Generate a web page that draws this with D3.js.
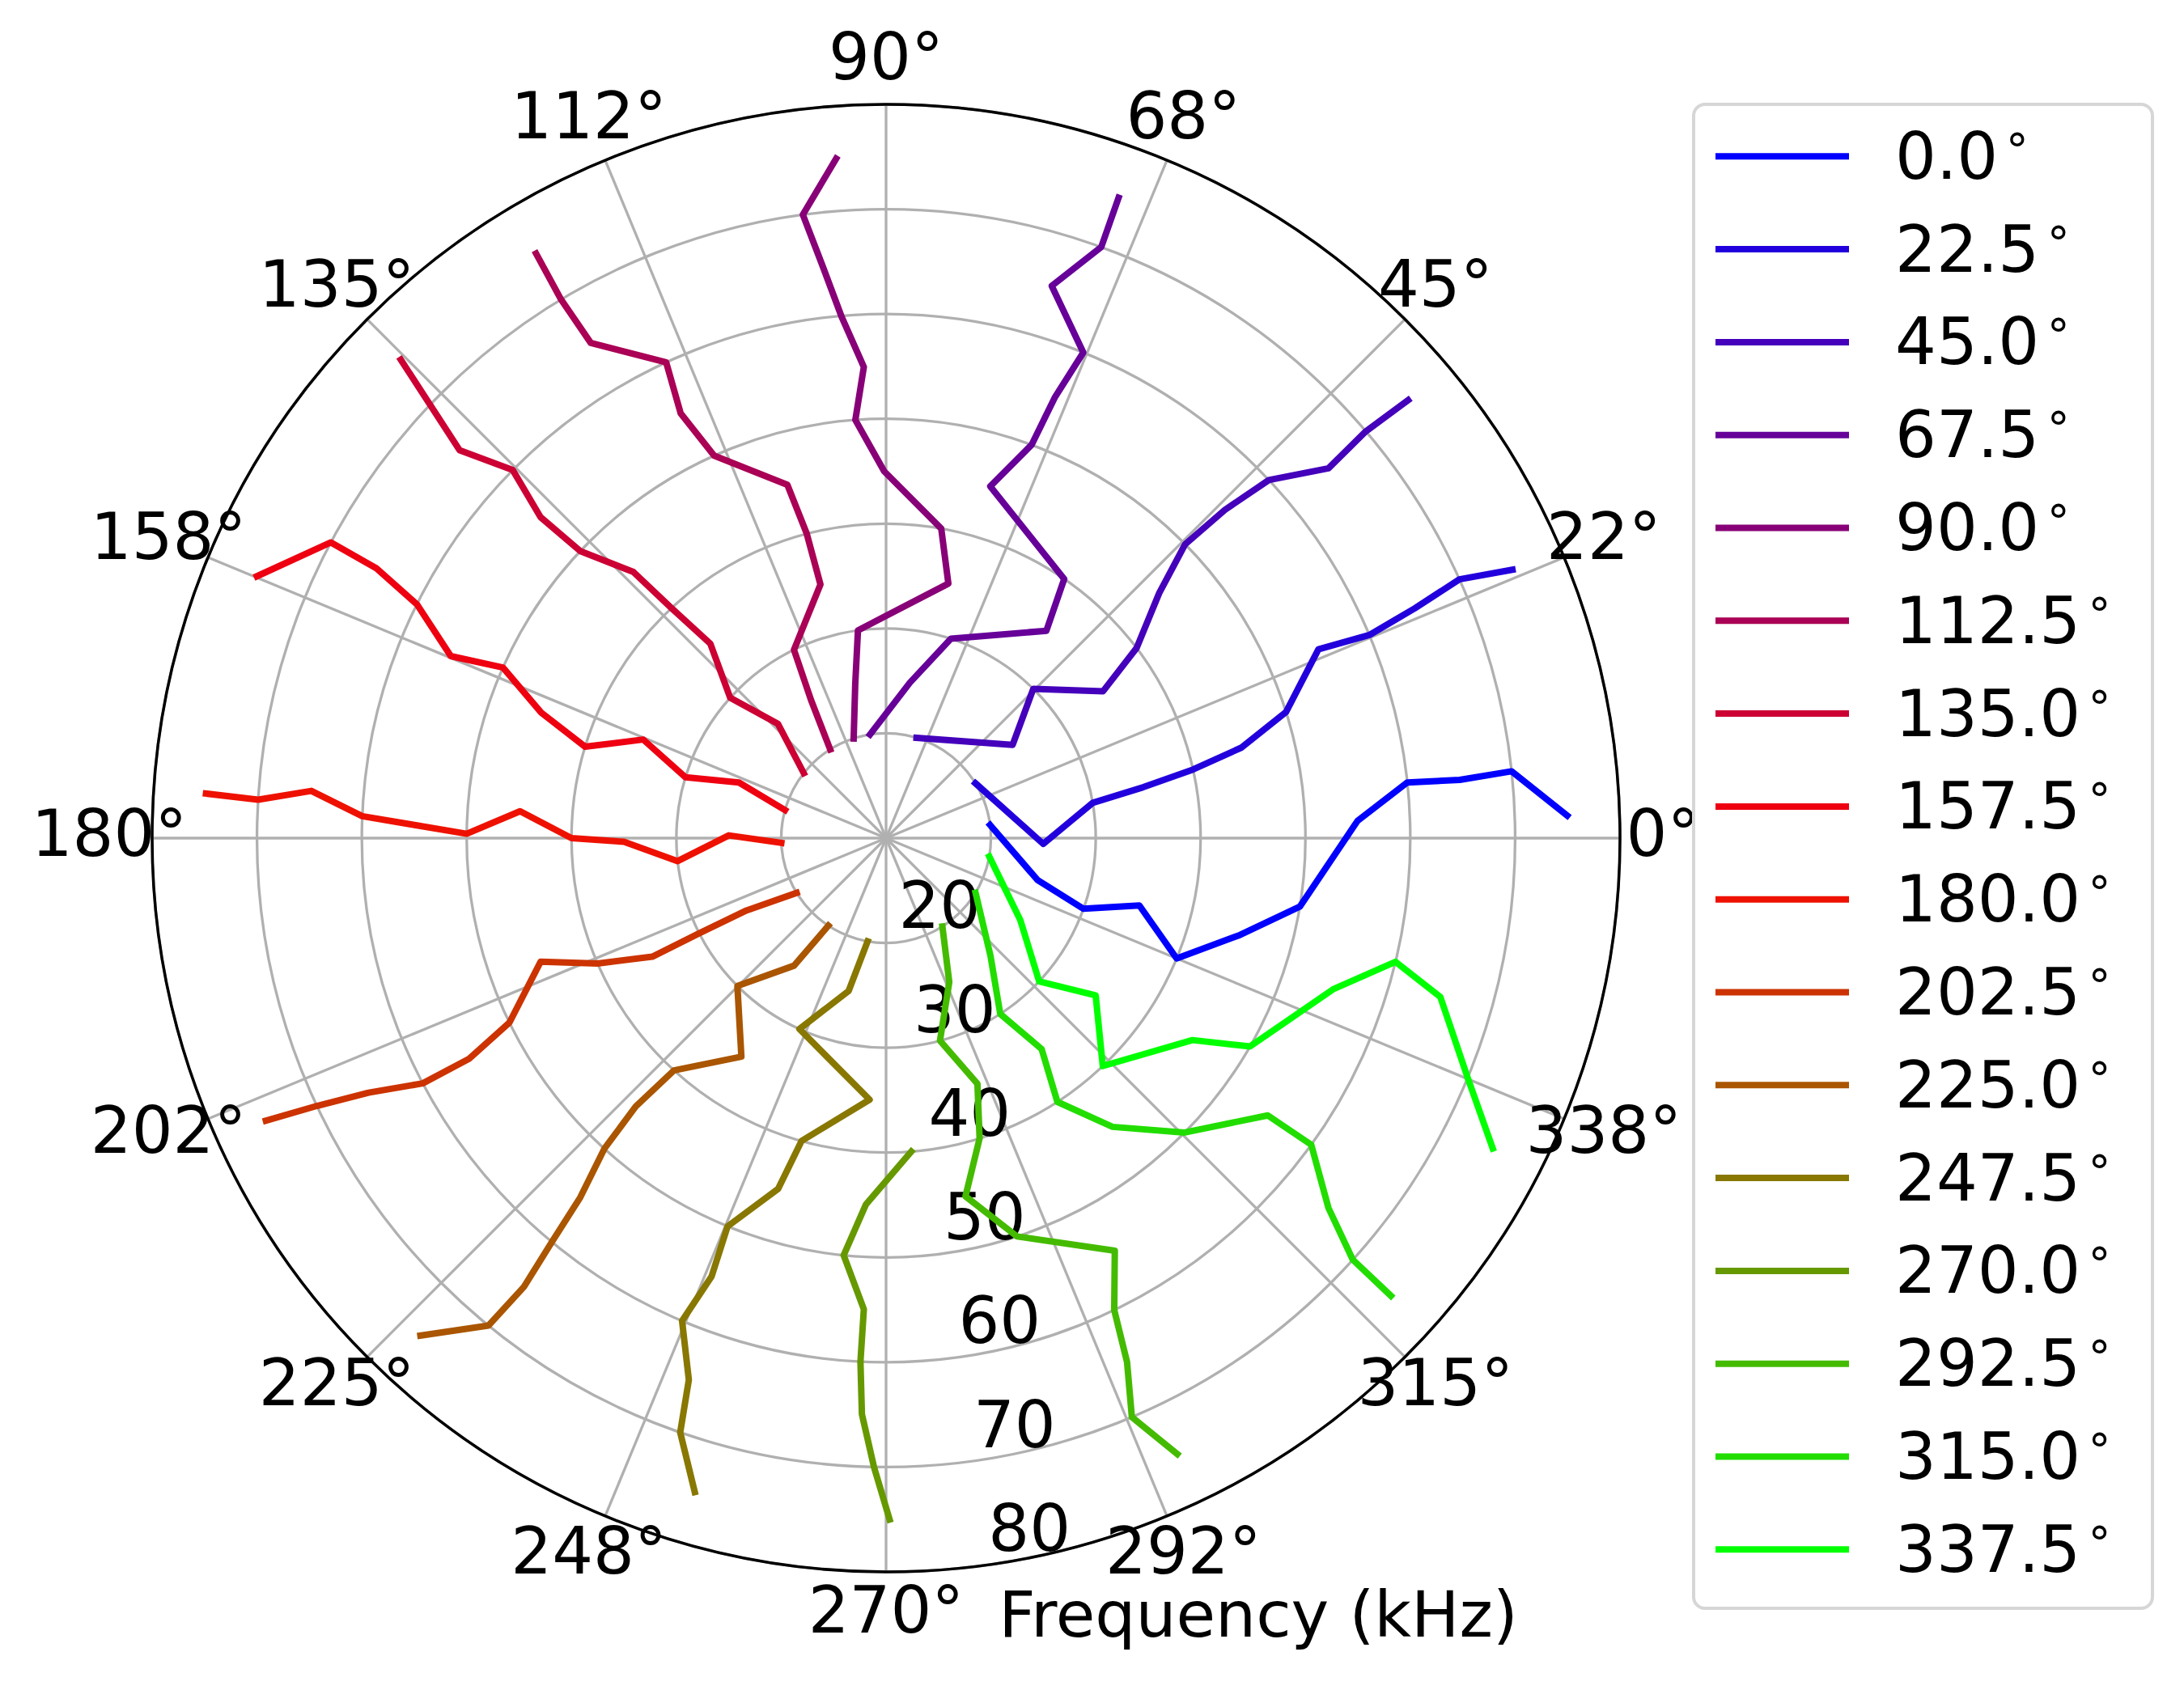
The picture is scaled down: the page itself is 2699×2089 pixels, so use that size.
<!DOCTYPE html>
<html>
<head>
<meta charset="utf-8">
<script src="https://cdn.jsdelivr.net/npm/d3@7"></script>
<style>
  html, body { margin: 0; padding: 0; background: #ffffff; }
  text { font-family: "DejaVu Sans", "Liberation Sans", sans-serif; }
</style>
</head>
<body>
<svg id="chart" width="2699" height="2089" xmlns="http://www.w3.org/2000/svg"></svg>
<script>
// ---------------- data ----------------
const frequencies = [20, 25, 30, 35, 40, 45, 50, 55, 60, 65, 70, 75];   // kHz (radius)
const directions = [0, 22.5, 45, 67.5, 90, 112.5, 135, 157.5, 180, 202.5, 225, 247.5, 270, 292.5, 315, 337.5];
const legendLabels = ["0.0", "22.5", "45.0", "67.5", "90.0", "112.5", "135.0", "157.5",
                      "180.0", "202.5", "225.0", "247.5", "270.0", "292.5", "315.0", "337.5"];

// measured direction (deg) at each frequency, one array per source direction
const dir000 = [7.2, -15.5, -19.7, -14.9, -22.5, -15.3, -9.4, 2.1, 6.1, 5.8, 6.1, 1.9];
const dir022 = [31.6, -2.1, 9.7, 11.2, 12.6, 14.3, 17.5, 23.6, 22.8, 23.5, 24.3, 23.2];
const dir045 = [73.1, 36.4, 45.4, 34.1, 37.2, 41.9, 44.5, 44.1, 43.1, 39.9, 40.3, 40.0];
const dir067 = [98.8, 81.3, 72.0, 52.3, 55.5, 73.5, 69.7, 69.05, 67.9, 73.3, 70.0, 70.05];
const dir090 = [108.0, 101.3, 97.7, 76.25, 79.9, 90.3, 94.2, 92.7, 94.9, 96.35, 97.6, 94.2];
const dir112 = [122.2, 118.5, 116.05, 104.5, 104.6, 105.6, 114.2, 115.8, 114.8, 120.8, 121.1, 120.9];
const dir135 = [141.7, 133.4, 138.0, 132.1, 133.0, 133.5, 136.8, 137.1, 135.4, 137.7, 136.45, 135.4];
const dir157 = [164.5, 159.3, 163.1, 157.9, 163.1, 160.0, 156.0, 157.3, 153.5, 152.1, 151.95, 157.4];
const dir180 = [182.6, 179.0, 186.3, 180.8, 180.0, 175.8, 179.4, 178.4, 177.6, 175.3, 176.5, 176.25];
const dir202 = [211.5, 207.4, 207.0, 206.9, 203.5, 199.7, 206.1, 207.9, 207.9, 206.2, 205.2, 204.5];
const dir225 = [236.6, 234.2, 224.85, 236.5, 227.6, 227.0, 227.8, 229.6, 230.4, 231.1, 230.8, 226.9];
const dir247 = [259.85, 256.25, 245.6, 266.4, 254.4, 252.9, 247.8, 248.3, 247.1, 250.0, 250.9, 253.7];
const dir270 = [null, null, null, null, 274.6, 266.85, 264.2, 267.3, 267.2, 267.6, 268.9, 270.3];
const dir292 = [302.5, 293.7, 284.9, 290.4, 287.3, 282.5, 288.2, 299.0, 295.8, 294.7, 293.0, 295.3];
const dir315 = [328.6, 311.6, 303.0, 306.4, 303.0, 308.1, 315.4, 324.0, 324.2, 320.1, 317.9, 317.8];
const dir337 = [349.9, 328.6, 316.9, 323.1, 313.55, 326.6, 330.2, 341.3, 346.35, 344.0, 337.6, 332.9];

const seriesAngles = [dir000, dir022, dir045, dir067, dir090, dir112, dir135, dir157,
                      dir180, dir202, dir225, dir247, dir270, dir292, dir315, dir337];

const colors = ["#0000ff", "#2200dd", "#4400bb", "#660099", "#880077", "#aa0055", "#cc0033", "#ee0011",
                "#ee1100", "#cc3300", "#aa5500", "#887700", "#669900", "#44bb00", "#22dd00", "#00ff00"];

const radialTicks = [20, 30, 40, 50, 60, 70, 80];
const radialTickLabels = ["20", "30", "40", "50", "60", "70", "80"];
const thetaTicks = [0, 22.5, 45, 67.5, 90, 112.5, 135, 157.5, 180, 202.5, 225, 247.5, 270, 292.5, 315, 337.5];
const thetaTickLabels = ["0°", "22°", "45°", "68°", "90°", "112°", "135°", "158°",
                         "180°", "202°", "225°", "248°", "270°", "292°", "315°", "338°"];
const xLabel = "Frequency (kHz)";

// ---------------- layout ----------------
const cx = 1095, cy = 1036, R = 907;
const FS = 80;
const svg = d3.select("#chart");
const rScale = d3.scaleLinear().domain([10, 80]).range([0, R]);
const toRad = d => (90 - d) * Math.PI / 180;   // math angle -> d3 radial angle

const g = svg.append("g").attr("transform", `translate(${cx},${cy})`);

// grid circles
g.append("g").selectAll("circle").data(radialTicks).join("circle")
  .attr("r", d => rScale(d)).attr("fill", "none")
  .attr("stroke", "#b0b0b0").attr("stroke-width", 3.3);

// radial grid lines
g.append("g").selectAll("line").data(thetaTicks).join("line")
  .attr("x1", 0).attr("y1", 0)
  .attr("x2", d => R * Math.cos(d * Math.PI / 180))
  .attr("y2", d => -R * Math.sin(d * Math.PI / 180))
  .attr("stroke", "#b0b0b0").attr("stroke-width", 3.3);

// spine
g.append("circle").attr("r", R).attr("fill", "none")
  .attr("stroke", "#000").attr("stroke-width", 3.5);

// theta tick labels
const rLab = 960;
g.append("g").selectAll("text").data(thetaTicks).join("text")
  .attr("x", d => rLab * Math.cos(d * Math.PI / 180))
  .attr("y", d => -rLab * Math.sin(d * Math.PI / 180) + 0.276 * FS)
  .attr("text-anchor", "middle").attr("font-size", FS).attr("fill", "#000")
  .text((d, i) => thetaTickLabels[i]);

// radial tick labels
const labAng = -81.8 * Math.PI / 180;
g.append("g").selectAll("text").data(radialTicks).join("text")
  .attr("x", d => rScale(d) * Math.cos(labAng) - 3)
  .attr("y", d => -rScale(d) * Math.sin(labAng) - 0.21 * FS)
  .attr("text-anchor", "start").attr("font-size", FS).attr("fill", "#000")
  .text((d, i) => radialTickLabels[i]);

// data lines
const lineGen = d3.lineRadial()
  .defined(d => d.a !== null)
  .angle(d => toRad(d.a))
  .radius(d => rScale(d.f));

seriesAngles.forEach((arr, i) => {
  const pts = frequencies.map((f, j) => ({ f: f, a: arr[j] }));
  g.append("path").datum(pts)
    .attr("d", lineGen)
    .attr("fill", "none")
    .attr("stroke", colors[i])
    .attr("stroke-width", 8)
    .attr("stroke-linejoin", "round")
    .attr("stroke-linecap", "square");
});

// x label
svg.append("text").attr("x", 1555).attr("y", 2023)
  .attr("text-anchor", "middle").attr("font-size", 79).attr("fill", "#000")
  .text(xLabel);

// legend
const lg = svg.append("g");
lg.append("rect").attr("x", 2093).attr("y", 129).attr("width", 567).attr("height", 1859)
  .attr("rx", 14).attr("ry", 14)
  .attr("fill", "#fff").attr("stroke", "#d6d6d6").attr("stroke-width", 4);
const ly0 = 193.3, ldy = 114.8;
directions.forEach((d, i) => {
  const y = ly0 + i * ldy;
  lg.append("line").attr("x1", 2120).attr("x2", 2285).attr("y1", y).attr("y2", y)
    .attr("stroke", colors[i]).attr("stroke-width", 8).attr("stroke-linecap", "butt");
  const t = lg.append("text").attr("x", 2342).attr("y", y + 27.5)
    .attr("font-size", FS).attr("fill", "#000");
  t.append("tspan").text(legendLabels[i]);
  t.append("tspan").attr("dx", 6).attr("dy", -31).attr("font-size", 56).text("∘");
});
</script>
</body>
</html>
